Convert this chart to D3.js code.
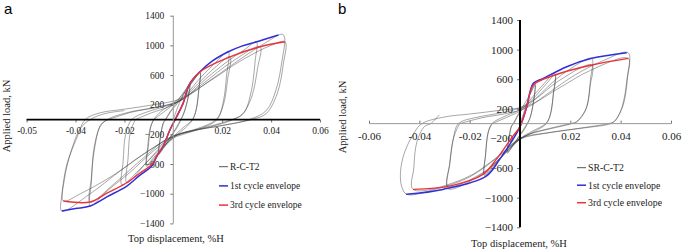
<!DOCTYPE html>
<html lang="en">

<head>
    <meta charset="utf-8">
    <title>Hysteresis curves R-C-T2 and SR-C-T2</title>
    <script src="https://d3js.org/d3.v7.min.js"></script>
    <style>
        body { margin: 0; background: #fff; }
        svg { display: block; }
    </style>
</head>

<body>
    <script type="text/javascript">

        const w = 686;
        const h = 252;
        const serif = "'Liberation Serif', 'Times New Roman', 'DejaVu Serif', serif";

        // tick values shared by both charts
        const xTickVals = [-0.06, -0.04, -0.02, 0.02, 0.04, 0.06];
        const xLabelsA = ["-0.05", "-0.04", "-0.02", "0.02", "0.04", "0.06"];
        const xLabelsB = ["-0.06", "-0.04", "-0.02", "0.02", "0.04", "0.06"];
        const yTickVals = [1400, 1000, 600, 200, -200, -600, -1000, -1400];
        const legendA = ["R-C-T2", "1st cycle envelope", "3rd cycle envelope"];
        const legendB = ["SR-C-T2", "1st cycle envelope", "3rd cycle envelope"];

        /* (a) R-C-T2 : [top displacement %H, applied load kN], one array per drift level */
        const loopA1 = [[0, 0], [0.0015, 140], [0.004, 330], [0.0068, 490],
            [0.0062, 320], [0.0045, 110], [0.0032, 0], [0.0015, -110], [-0.001, -230], [-0.0035, -360], [-0.006, -470],
            [-0.0055, -280], [-0.0042, -60], [-0.0033, 0], [-0.001, 120], [0.002, 260], [0.0045, 380], [0.0066, 460],
            [0.006, 290], [0.0044, 90], [0.003, 0], [0.0012, -110], [-0.0015, -250], [-0.004, -370], [-0.0058, -440],
            [-0.0053, -260], [-0.004, -40], [-0.003, 0]];
        const loopA2 = [[-0.003, 0], [-0.001, 110], [0.002, 230], [0.006, 420], [0.009, 560], [0.011, 644],
            [0.0105, 420], [0.0095, 150], [0.008, 0], [0.005, -110], [0.001, -220], [-0.004, -380], [-0.008, -530], [-0.011, -630],
            [-0.0105, -380], [-0.0095, -120], [-0.008, 0], [-0.005, 110], [0, 220], [0.004, 340], [0.008, 520], [0.011, 630],
            [0.0104, 400], [0.0093, 130], [0.0078, 0], [0.004, -110], [0, -230], [-0.004, -370], [-0.008, -510], [-0.0108, -610],
            [-0.0102, -360], [-0.0092, -100], [-0.008, 0]];
        const loopA3 = [[-0.008, 0], [-0.004, 100], [0, 200], [0.005, 330], [0.011, 560], [0.017, 760], [0.0225, 914],
            [0.0218, 600], [0.0205, 250], [0.018, 0], [0.012, -110], [0.005, -190], [0, -250], [-0.006, -420], [-0.014, -680], [-0.021, -880],
            [-0.0205, -560], [-0.0195, -200], [-0.017, 0], [-0.011, 100], [-0.004, 170], [0.003, 260], [0.01, 480], [0.017, 700], [0.0232, 846],
            [0.0222, 540], [0.0205, 200], [0.0175, 0], [0.01, -120], [0.003, -190], [-0.003, -300], [-0.011, -580], [-0.019, -852],
            [-0.0185, -520], [-0.0175, -160], [-0.0155, 0]];
        const loopA4 = [[-0.0155, 0], [-0.009, 90], [-0.002, 170], [0.005, 300], [0.013, 540], [0.022, 780], [0.029, 940], [0.034, 1048],
            [0.0335, 800], [0.032, 400], [0.029, 100], [0.0245, 0], [0.016, -90], [0.006, -170], [0, -230], [-0.008, -420], [-0.018, -720], [-0.027, -960], [-0.034, -1166],
            [-0.0335, -850], [-0.0325, -400], [-0.03, -100], [-0.027, 0], [-0.018, 100], [-0.008, 160], [0.002, 240], [0.012, 480], [0.024, 780], [0.0355, 981],
            [0.0345, 700], [0.032, 300], [0.028, 60], [0.024, 0], [0.015, -90], [0.005, -170], [-0.003, -270], [-0.013, -540], [-0.024, -860], [-0.034, -1112],
            [-0.0335, -780], [-0.032, -350], [-0.0295, -60], [-0.0265, 0]];
        const loopA5 = [[-0.0265, 0], [-0.017, 100], [-0.006, 170], [0.003, 260], [0.013, 480], [0.025, 760], [0.036, 1000], [0.0445, 1150],
            [0.0455, 1110], [0.0445, 800], [0.042, 400], [0.038, 120], [0.031, 0], [0.02, -80], [0.008, -150], [0, -220], [-0.01, -420], [-0.022, -700], [-0.034, -1000], [-0.0456, -1233],
            [-0.0455, -1000], [-0.0435, -600], [-0.0395, -250], [-0.036, 0], [-0.03, 90], [-0.02, 140], [-0.008, 200], [0.003, 280], [0.015, 520], [0.028, 800], [0.04, 1000], [0.0457, 1048],
            [0.045, 750], [0.0425, 350], [0.038, 80], [0.032, 0], [0.02, -80], [0.008, -150], [0, -230], [-0.012, -460], [-0.025, -760], [-0.038, -1000], [-0.045, -1098],
            [-0.0445, -800], [-0.042, -450], [-0.038, -120], [-0.034, 0], [-0.028, 80], [-0.02, 120]];
        const env1A = [[-0.0456, -1233], [-0.04, -1200], [-0.034, -1166], [-0.027, -1040], [-0.019, -896], [-0.014, -760], [-0.0088, -627],
            [-0.0068, -500], [-0.0041, -357], [-0.0014, -141], [0.004, 218], [0.0068, 488], [0.0109, 644], [0.016, 790], [0.0225, 914],
            [0.028, 990], [0.0341, 1048], [0.039, 1100], [0.043, 1139]];
        const env3A = [[-0.045, -1098], [-0.034, -1112], [-0.027, -990], [-0.019, -852], [-0.014, -730], [-0.0088, -604],
            [-0.0068, -492], [-0.0041, -357], [-0.0014, -141], [0.004, 218], [0.0061, 442], [0.0109, 644], [0.0232, 846],
            [0.0355, 981], [0.0457, 1048]];

        /* (b) SR-C-T2 */
        const loopB1 = [[0, 0], [0.002, 200], [0.004, 400], [0.006, 540],
            [0.0055, 330], [0.0042, 100], [0.003, 0], [0.0015, -90], [-0.001, -200], [-0.003, -300], [-0.005, -400],
            [-0.0045, -220], [-0.0035, -40], [-0.0027, 0], [-0.001, 110], [0.002, 280], [0.0045, 430], [0.006, 520],
            [0.0054, 300], [0.004, 80], [0.0028, 0], [0.001, -100], [-0.0015, -230], [-0.0048, -380],
            [-0.0043, -200], [-0.0033, -30], [-0.0025, 0]];
        const loopB2 = [[-0.0025, 0], [0, 150], [0.004, 320], [0.009, 520], [0.0139, 680],
            [0.0133, 420], [0.0122, 150], [0.0105, 0], [0.006, -100], [0.001, -190], [-0.004, -330], [-0.009, -520], [-0.0141, -700],
            [-0.0137, -420], [-0.0127, -130], [-0.0112, 0], [-0.006, 100], [0, 190], [0.005, 330], [0.01, 520], [0.0139, 657],
            [0.0132, 380], [0.012, 110], [0.0102, 0], [0.005, -100], [0, -200], [-0.005, -360], [-0.01, -540], [-0.0141, -685],
            [-0.0136, -400], [-0.0126, -110], [-0.011, 0]];
        const loopB3 = [[-0.011, 0], [-0.005, 90], [0, 170], [0.006, 330], [0.013, 560], [0.02, 740], [0.0285, 882],
            [0.028, 600], [0.0265, 220], [0.0225, 30], [0.0205, 0], [0.012, -70], [0.004, -140], [0, -210], [-0.007, -440], [-0.016, -700], [-0.0286, -880],
            [-0.028, -560], [-0.0265, -200], [-0.0245, 0], [-0.018, 80], [-0.01, 130], [-0.002, 190], [0.006, 330], [0.015, 570], [0.0285, 792],
            [0.0278, 500], [0.026, 180], [0.0225, 20], [0.02, 0], [0.011, -70], [0.003, -150], [-0.003, -280], [-0.012, -600], [-0.0286, -843],
            [-0.0278, -520], [-0.0262, -170], [-0.024, 0]];
        const loopB4 = [[-0.024, 0], [-0.015, 80], [-0.005, 140], [0.003, 220], [0.012, 430], [0.022, 660], [0.033, 850], [0.043, 958],
            [0.0428, 650], [0.041, 250], [0.038, 50], [0.036, 0], [0.025, -60], [0.012, -120], [0, -200], [-0.008, -430], [-0.02, -720], [-0.033, -880], [-0.045, -955],
            [-0.047, -850], [-0.0475, -660], [-0.046, -400], [-0.042, -120], [-0.039, 0], [-0.03, 90], [-0.02, 130], [-0.008, 180], [0.003, 240], [0.015, 470], [0.028, 720], [0.043, 882],
            [0.0425, 600], [0.0405, 220], [0.0375, 30], [0.035, 0], [0.024, -60], [0.01, -130], [0, -210], [-0.009, -450], [-0.022, -740], [-0.0425, -888],
            [-0.0422, -600], [-0.041, -250], [-0.038, -40], [-0.0355, 0], [-0.032, 120]];
        const env1B = [[-0.0452, -955], [-0.0306, -888], [-0.0134, -708], [-0.0081, -482], [-0.0028, -212], [0, -40],
            [0.0027, 228], [0.0053, 545], [0.0093, 612], [0.0186, 769], [0.0285, 882], [0.0424, 958]];
        const env3B = [[-0.0425, -888], [-0.028, -843], [-0.0147, -685], [-0.0094, -482], [-0.0028, -168], [0, -40],
            [0.0027, 228], [0.0053, 522], [0.0139, 657], [0.0285, 792], [0.0431, 882]];

        const svg = d3.select("body")
            .append("svg")
            .attr("width", w)
            .attr("height", h);

        //one function draws one panel
        function drawPanel(p) {
            const xScale = d3.scaleLinear().domain([-0.06, 0.06]).range(p.xRange);
            const yScale = d3.scaleLinear().domain([-1400, 1400]).range(p.yRange);
            const g = svg.append("g");

            //x axis (ticks + labels)
            const bottomAxis = d3.axisBottom(xScale)
                .tickValues(xTickVals)
                .tickFormat((d, i) => p.xLabels[i])
                .tickSize(p.xTickDir * 3)
                .tickPadding(p.xPad);
            const gx = g.append("g")
                .attr("transform", "translate(0," + yScale(0) + ")")
                .call(bottomAxis)
                .attr("font-family", serif)
                .attr("font-size", p.fs);
            gx.select(".domain").remove();
            gx.selectAll(".tick line").attr("stroke", "#777");
            gx.selectAll(".tick text").attr("fill", "#222").attr("y", 3 + p.xPad);

            //y axis
            const leftAxis = d3.axisLeft(yScale)
                .tickValues(yTickVals)
                .tickFormat(d3.format("d"))
                .tickSize(3)
                .tickPadding(p.yPad);
            const gy = g.append("g")
                .attr("transform", "translate(" + xScale(0) + ",0)")
                .call(leftAxis)
                .attr("font-family", serif)
                .attr("font-size", p.fs);
            gy.select(".domain").remove();
            gy.selectAll(".tick line").attr("stroke", "#777");
            gy.selectAll(".tick text").attr("fill", "#222");

            //hysteresis curves
            const coords = d3.line()
                .x(d => xScale(d[0]))
                .y(d => yScale(d[1]))
                .curve(d3.curveCatmullRom.alpha(0.5));

            g.selectAll(".loop")
                .data(p.loops)
                .join("path")
                .attr("class", "loop")
                .attr("d", coords)
                .attr("fill", "none")
                .attr("stroke", "#3a3a3a")
                .attr("stroke-opacity", 0.75)
                .attr("stroke-width", 0.6);

            g.append("path").attr("d", coords(p.env1))
                .attr("fill", "none").attr("stroke", "#2f2fd8").attr("stroke-width", 1.5);
            g.append("path").attr("d", coords(p.env3))
                .attr("fill", "none").attr("stroke", "#e8333a").attr("stroke-width", 1.4);

            //axis lines on top
            g.append("line")
                .attr("x1", xScale(-0.06)).attr("x2", xScale(0.06))
                .attr("y1", yScale(0)).attr("y2", yScale(0))
                .attr("stroke", p.xLineColor).attr("stroke-width", p.xLineWidth);
            g.append("line")
                .attr("x1", xScale(0)).attr("x2", xScale(0))
                .attr("y1", yScale(1400)).attr("y2", yScale(-1400))
                .attr("stroke", p.yLineColor).attr("stroke-width", p.yLineWidth);

            //axis titles
            g.append("text")
                .attr("font-family", serif).attr("fill", "#222")
                .attr("x", p.xTitle[0]).attr("y", p.xTitle[1])
                .attr("text-anchor", "middle")
                .attr("font-size", 10.5)
                .text("Top displacement, %H");
            g.append("text")
                .attr("font-family", serif).attr("fill", "#222")
                .attr("text-anchor", "middle")
                .attr("font-size", 10.5)
                .attr("transform", "translate(" + p.yTitle[0] + "," + p.yTitle[1] + ") rotate(-90)")
                .text("Applied load, kN");

            //legend
            const colors = ["#555", "#2f2fd8", "#e8333a"];
            p.legend.forEach((t, i) => {
                const ly = p.legendPos[1] + i * p.legendGap;
                g.append("line")
                    .attr("x1", p.legendPos[0]).attr("x2", p.legendPos[0] + 9)
                    .attr("y1", ly).attr("y2", ly)
                    .attr("stroke", colors[i]).attr("stroke-width", i == 0 ? 1 : 1.5);
                g.append("text")
                    .attr("font-family", serif).attr("fill", "#222")
                    .attr("font-size", p.legendFs)
                    .attr("x", p.legendPos[0] + 11).attr("y", ly + 3.3)
                    .text(t);
            });

            //panel letter
            g.append("text")
                .attr("font-family", "'Liberation Sans', Arial, sans-serif")
                .attr("font-size", 15)
                .attr("x", p.letter[1]).attr("y", 14)
                .text(p.letter[0]);
        }

        drawPanel({
            xRange: [26.6, 320], yRange: [223.4, 15.7],
            xLabels: xLabelsA, fs: 9.5, xPad: 5, yPad: 6, xTickDir: 1,
            loops: [loopA1, loopA2, loopA3, loopA4, loopA5], env1: env1A, env3: env3A,
            xLineColor: "#000", xLineWidth: 1.7, yLineColor: "#999", yLineWidth: 1,
            xTitle: [176, 242], yTitle: [10, 116],
            legend: legendA, legendPos: [219, 166.7], legendGap: 19.2, legendFs: 9.5,
            letter: ["a", 4]
        });

        drawPanel({
            xRange: [369, 671], yRange: [227.3, 20],
            xLabels: xLabelsB, fs: 11, xPad: 6, yPad: 4, xTickDir: -1,
            loops: [loopB1, loopB2, loopB3, loopB4], env1: env1B, env3: env3B,
            xLineColor: "#999", xLineWidth: 1, yLineColor: "#000", yLineWidth: 2,
            xTitle: [519, 247], yTitle: [346, 117],
            legend: legendB, legendPos: [577, 167.7], legendGap: 17.5, legendFs: 9.8,
            letter: ["b", 338]
        });

    </script>
</body>

</html>
